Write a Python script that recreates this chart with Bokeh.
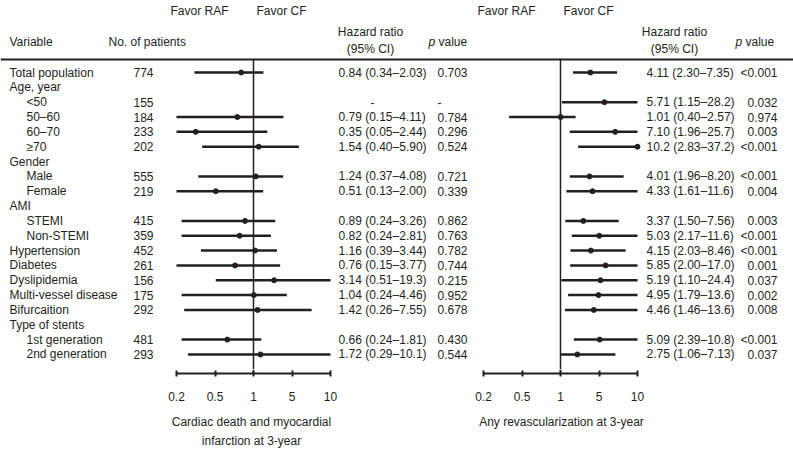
import numpy as np
from bokeh.plotting import figure
from bokeh.models import Range1d, LinearAxis, FixedTicker, Span, Spacer
from bokeh.layouts import row, column
from bokeh.embed import file_html
from bokeh.resources import INLINE
from bokeh.core.properties import value

# ---------------- data ----------------
labels = ["Total population", "Age, year", "<50", "50\u201360", "60\u201370", "\u226570",
          "Gender", "Male", "Female", "AMI", "STEMI", "Non-STEMI", "Hypertension",
          "Diabetes", "Dyslipidemia", "Multi-vessel disease", "Bifurcaition",
          "Type of stents", "1st generation", "2nd generation"]
indent = [0, 0, 1, 1, 1, 1, 0, 1, 1, 0, 1, 1, 0, 0, 0, 0, 0, 0, 1, 1]
patients = ["774", "", "155", "184", "233", "202", "", "555", "219", "", "415", "359",
            "452", "261", "156", "175", "292", "", "481", "293"]

# Cardiac death and MI at 3-year
hr1 = [0.84, None, None, 0.79, 0.35, 1.54, None, 1.24, 0.51, None, 0.89, 0.82, 1.16, 0.76, 3.14, 1.04, 1.42, None, 0.66, 1.72]
lo1 = [0.34, None, None, 0.15, 0.05, 0.40, None, 0.37, 0.13, None, 0.24, 0.24, 0.39, 0.15, 0.51, 0.24, 0.26, None, 0.24, 0.29]
hi1 = [2.03, None, None, 4.11, 2.44, 5.90, None, 4.08, 2.00, None, 3.26, 2.81, 3.44, 3.77, 19.3, 4.46, 7.55, None, 1.81, 10.1]
p1 = ["0.703", "", "-", "0.784", "0.296", "0.524", "", "0.721", "0.339", "", "0.862", "0.763",
      "0.782", "0.744", "0.215", "0.952", "0.678", "", "0.430", "0.544"]
missing1 = [False, False, True] + [False] * 17

# Any revascularization at 3-year
hr2 = [4.11, None, 5.71, 1.01, 7.10, 10.2, None, 4.01, 4.33, None, 3.37, 5.03, 4.15, 5.85, 5.19, 4.95, 4.46, None, 5.09, 2.75]
lo2 = [2.30, None, 1.15, 0.40, 1.96, 2.83, None, 1.96, 1.61, None, 1.50, 2.17, 2.03, 2.00, 1.10, 1.79, 1.46, None, 2.39, 1.06]
hi2 = [7.35, None, 28.2, 2.57, 25.7, 37.2, None, 8.20, 11.6, None, 7.56, 11.6, 8.46, 17.0, 24.4, 13.6, 13.6, None, 10.8, 7.13]
p2 = ["<0.001", "", "0.032", "0.974", "0.003", "<0.001", "", "<0.001", "0.004", "", "0.003", "<0.001",
      "<0.001", "0.001", "0.037", "0.002", "0.008", "", "<0.001", "0.037"]

tick_values = [0.2, 0.5, 1, 5, 10]
tick_labels = ["0.2", "0.5", "1", "5", "10"]
title1 = "Cardiac death and myocardial\ninfarction at 3-year"
title2 = "Any revascularization at 3-year"

# ---------------- style ----------------
FONT = "Liberation Sans"
FS = "12px"
COL = "#231f20"
W, H = 793, 452
AXIS_Y = 373          # page y of the axis line
TOP_H = 369           # height of the upper (table + forest) canvas
ROW0, ROWSTEP = 72, 14.84
HEADER_Y = 59
STEP = 38.5           # px per tick interval
TICK0_1, TICK0_2 = 176, 483   # page x of the 0.2 tick in each panel


def tpos(v):
    # the chart spaces its ticks 0.2, 0.5, 1, 5, 10 evenly (piecewise-linear scale)
    return float(np.interp(v, tick_values, range(len(tick_values))))


def fmt(v):
    return f"{v:.1f}" if v >= 10 else f"{v:.2f}"


row_y = [ROW0 + i * ROWSTEP for i in range(len(labels))]


def prange(left, right, tick0):
    return Range1d((left - tick0) / STEP, (right - tick0) / STEP)


# ---------------- upper canvas ----------------
p = figure(width=W, height=TOP_H, output_backend="svg", toolbar_location=None,
           x_range=Range1d(0, W), y_range=Range1d(TOP_H, 0),
           x_axis_location=None, y_axis_location=None, min_border=0,
           outline_line_color=None, background_fill_color="white", border_fill_color="white")
p.xgrid.visible = False
p.ygrid.visible = False
p.extra_x_ranges = {"f1": prange(0, W, TICK0_1), "f2": prange(0, W, TICK0_2)}
p.add_layout(Span(location=HEADER_Y, dimension="width", line_color=COL, line_width=2))


def txt(f, xs, ys, texts, align="left", style="normal", x_offset=0, xr="default"):
    f.text(x=xs, y=ys, text=texts, text_align=align, text_baseline="middle",
           text_font=value(FONT), text_font_size=FS, text_font_style=style,
           text_color=COL, x_offset=x_offset, x_range_name=xr)


# table left
txt(p, [9, 108], [41, 41], ["Variable", "No. of patients"])
txt(p, [9 if k == 0 else 26 for k in indent], row_y, labels)
txt(p, [133] * len(patients), row_y, patients)


def forest(hr, lo, hi, xr):
    idx = [i for i, h in enumerate(hr) if h is not None]
    p.segment(x0=[tpos(1)], y0=[HEADER_Y], x1=[tpos(1)], y1=[TOP_H], line_color=COL,
              line_width=1.5, x_range_name=xr)
    p.segment(x0=[tpos(lo[i]) for i in idx], y0=[row_y[i] for i in idx],
              x1=[tpos(hi[i]) for i in idx], y1=[row_y[i] for i in idx],
              line_color=COL, line_width=2.5, x_range_name=xr)
    p.scatter(x=[tpos(hr[i]) for i in idx], y=[row_y[i] for i in idx], marker="circle",
              size=5, fill_color=COL, line_color=COL, x_range_name=xr)
    txt(p, [tpos(1)], [10], ["Favor RAF"], align="right", x_offset=-25, xr=xr)
    txt(p, [tpos(1)], [10], ["Favor CF"], align="left", x_offset=3, xr=xr)


forest(hr1, lo1, hi1, "f1")
forest(hr2, lo2, hi2, "f2")

# HR / p columns (left)
txt(p, [370, 370], [31, 48], ["Hazard ratio", "(95% CI)"], align="center")
txt(p, [428], [41], ["p"], style="italic")
txt(p, [438], [41], ["value"])
hr_txt1 = [f"{fmt(hr1[i])} ({fmt(lo1[i])}\u2013{fmt(hi1[i])})" for i in range(len(hr1)) if hr1[i] is not None]
hr_y1 = [row_y[i] for i in range(len(hr1)) if hr1[i] is not None]
txt(p, [338] * len(hr_txt1), hr_y1, hr_txt1)
miss_y = [row_y[i] for i in range(len(missing1)) if missing1[i]]
txt(p, [372] * len(miss_y), miss_y, ["-"] * len(miss_y), align="center")
txt(p, [437] * len(p1), row_y, p1)

# HR / p columns (right)
txt(p, [674, 674], [31, 48], ["Hazard ratio", "(95% CI)"], align="center")
txt(p, [735], [41], ["p"], style="italic")
txt(p, [745], [41], ["value"])
hr_txt2 = [f"{fmt(hr2[i])} ({fmt(lo2[i])}\u2013{fmt(hi2[i])})" for i in range(len(hr2)) if hr2[i] is not None]
hr_y2 = [row_y[i] for i in range(len(hr2)) if hr2[i] is not None]
txt(p, [646] * len(hr_txt2), hr_y2, hr_txt2)
txt(p, [777] * len(p2), row_y, p2, align="right")


# ---------------- axes (lower strip) ----------------
AX_H = H - TOP_H
FRAME_H = AXIS_Y - TOP_H


def axis_fig(left, right, tick0, title):
    f = figure(width=right - left, height=AX_H, output_backend="svg", toolbar_location=None,
               x_range=prange(left, right, tick0), y_range=Range1d(0, 1),
               x_axis_location=None, y_axis_location=None,
               min_border_left=0, min_border_right=0, min_border_top=0,
               min_border_bottom=AX_H - FRAME_H, outline_line_color=None,
               background_fill_color="white", border_fill_color="white")
    f.xgrid.visible = False
    f.ygrid.visible = False
    f.segment(x0=[tpos(1)], y0=[0], x1=[tpos(1)], y1=[1], line_color=COL, line_width=1.5)
    ax = LinearAxis(ticker=FixedTicker(ticks=list(range(len(tick_values)))),
                    major_label_overrides={i: t for i, t in enumerate(tick_labels)},
                    bounds=(0, len(tick_values) - 1),
                    axis_line_color=COL, axis_line_width=2,
                    major_tick_line_color=COL, major_tick_line_width=2,
                    major_tick_in=3, major_tick_out=3, minor_tick_line_color=None,
                    major_label_text_font=FONT, major_label_text_font_size=FS,
                    major_label_text_color=COL, major_label_standoff=15,
                    axis_label=title, axis_label_text_font=FONT,
                    axis_label_text_font_size=FS, axis_label_text_font_style="normal",
                    axis_label_text_color=COL, axis_label_standoff=11,
                    axis_label_text_line_height=1.4)
    f.add_layout(ax, "below")
    return f


ax1 = axis_fig(160, 342, TICK0_1, title1)
ax2 = axis_fig(470, 652, TICK0_2, title2)
bottom = row(Spacer(width=160, height=AX_H), ax1, Spacer(width=128, height=AX_H), ax2,
             Spacer(width=141, height=AX_H), spacing=0)

layout = column(p, bottom, spacing=0)
open("out.html", "w").write(file_html(layout, INLINE))
